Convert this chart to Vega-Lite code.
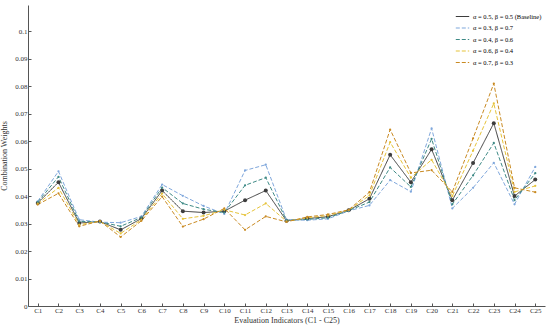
{
  "$schema": "https://vega.github.io/schema/vega-lite/v6.json",
  "width": 517,
  "height": 301,
  "autosize": {"type": "none"},
  "padding": {"left": 28, "top": 5, "right": 5, "bottom": 24},
  "background": "white",
  "config": {
    "view": {"stroke": null},
    "font": "Liberation Serif",
    "axis": {"labelFont": "Liberation Serif", "titleFont": "Liberation Serif", "titleFontWeight": "normal", "labelColor": "#333", "titleColor": "#333", "domainColor": "#555", "tickColor": "#555", "grid": false},
    "legend": {"labelFont": "Liberation Serif"}
  },
  "data": {"values": [
    {"ind":"C1","s":"α = 0.5, β = 0.5 (Baseline)","w":0.0375},{"ind":"C1","s":"α = 0.3, β = 0.7","w":0.0381},{"ind":"C1","s":"α = 0.4, β = 0.6","w":0.0378},{"ind":"C1","s":"α = 0.6, β = 0.4","w":0.0372},{"ind":"C1","s":"α = 0.7, β = 0.3","w":0.0369},
    {"ind":"C2","s":"α = 0.5, β = 0.5 (Baseline)","w":0.0450},{"ind":"C2","s":"α = 0.3, β = 0.7","w":0.0490},{"ind":"C2","s":"α = 0.4, β = 0.6","w":0.0470},{"ind":"C2","s":"α = 0.6, β = 0.4","w":0.0430},{"ind":"C2","s":"α = 0.7, β = 0.3","w":0.0410},
    {"ind":"C3","s":"α = 0.5, β = 0.5 (Baseline)","w":0.0302},{"ind":"C3","s":"α = 0.3, β = 0.7","w":0.0314},{"ind":"C3","s":"α = 0.4, β = 0.6","w":0.0308},{"ind":"C3","s":"α = 0.6, β = 0.4","w":0.0296},{"ind":"C3","s":"α = 0.7, β = 0.3","w":0.0290},
    {"ind":"C4","s":"α = 0.5, β = 0.5 (Baseline)","w":0.0307},{"ind":"C4","s":"α = 0.3, β = 0.7","w":0.0305},{"ind":"C4","s":"α = 0.4, β = 0.6","w":0.0306},{"ind":"C4","s":"α = 0.6, β = 0.4","w":0.0308},{"ind":"C4","s":"α = 0.7, β = 0.3","w":0.0309},
    {"ind":"C5","s":"α = 0.5, β = 0.5 (Baseline)","w":0.0277},{"ind":"C5","s":"α = 0.3, β = 0.7","w":0.0303},{"ind":"C5","s":"α = 0.4, β = 0.6","w":0.0290},{"ind":"C5","s":"α = 0.6, β = 0.4","w":0.0264},{"ind":"C5","s":"α = 0.7, β = 0.3","w":0.0251},
    {"ind":"C6","s":"α = 0.5, β = 0.5 (Baseline)","w":0.0318},{"ind":"C6","s":"α = 0.3, β = 0.7","w":0.0326},{"ind":"C6","s":"α = 0.4, β = 0.6","w":0.0322},{"ind":"C6","s":"α = 0.6, β = 0.4","w":0.0314},{"ind":"C6","s":"α = 0.7, β = 0.3","w":0.0310},
    {"ind":"C7","s":"α = 0.5, β = 0.5 (Baseline)","w":0.0420},{"ind":"C7","s":"α = 0.3, β = 0.7","w":0.0442},{"ind":"C7","s":"α = 0.4, β = 0.6","w":0.0431},{"ind":"C7","s":"α = 0.6, β = 0.4","w":0.0409},{"ind":"C7","s":"α = 0.7, β = 0.3","w":0.0398},
    {"ind":"C8","s":"α = 0.5, β = 0.5 (Baseline)","w":0.0345},{"ind":"C8","s":"α = 0.3, β = 0.7","w":0.0401},{"ind":"C8","s":"α = 0.4, β = 0.6","w":0.0373},{"ind":"C8","s":"α = 0.6, β = 0.4","w":0.0317},{"ind":"C8","s":"α = 0.7, β = 0.3","w":0.0289},
    {"ind":"C9","s":"α = 0.5, β = 0.5 (Baseline)","w":0.0340},{"ind":"C9","s":"α = 0.3, β = 0.7","w":0.0364},{"ind":"C9","s":"α = 0.4, β = 0.6","w":0.0352},{"ind":"C9","s":"α = 0.6, β = 0.4","w":0.0328},{"ind":"C9","s":"α = 0.7, β = 0.3","w":0.0316},
    {"ind":"C10","s":"α = 0.5, β = 0.5 (Baseline)","w":0.0345},{"ind":"C10","s":"α = 0.3, β = 0.7","w":0.0335},{"ind":"C10","s":"α = 0.4, β = 0.6","w":0.0340},{"ind":"C10","s":"α = 0.6, β = 0.4","w":0.0350},{"ind":"C10","s":"α = 0.7, β = 0.3","w":0.0355},
    {"ind":"C11","s":"α = 0.5, β = 0.5 (Baseline)","w":0.0385},{"ind":"C11","s":"α = 0.3, β = 0.7","w":0.0493},{"ind":"C11","s":"α = 0.4, β = 0.6","w":0.0439},{"ind":"C11","s":"α = 0.6, β = 0.4","w":0.0331},{"ind":"C11","s":"α = 0.7, β = 0.3","w":0.0277},
    {"ind":"C12","s":"α = 0.5, β = 0.5 (Baseline)","w":0.0420},{"ind":"C12","s":"α = 0.3, β = 0.7","w":0.0514},{"ind":"C12","s":"α = 0.4, β = 0.6","w":0.0467},{"ind":"C12","s":"α = 0.6, β = 0.4","w":0.0373},{"ind":"C12","s":"α = 0.7, β = 0.3","w":0.0326},
    {"ind":"C13","s":"α = 0.5, β = 0.5 (Baseline)","w":0.0310},{"ind":"C13","s":"α = 0.3, β = 0.7","w":0.0314},{"ind":"C13","s":"α = 0.4, β = 0.6","w":0.0312},{"ind":"C13","s":"α = 0.6, β = 0.4","w":0.0308},{"ind":"C13","s":"α = 0.7, β = 0.3","w":0.0306},
    {"ind":"C14","s":"α = 0.5, β = 0.5 (Baseline)","w":0.0318},{"ind":"C14","s":"α = 0.3, β = 0.7","w":0.0312},{"ind":"C14","s":"α = 0.4, β = 0.6","w":0.0315},{"ind":"C14","s":"α = 0.6, β = 0.4","w":0.0321},{"ind":"C14","s":"α = 0.7, β = 0.3","w":0.0324},
    {"ind":"C15","s":"α = 0.5, β = 0.5 (Baseline)","w":0.0325},{"ind":"C15","s":"α = 0.3, β = 0.7","w":0.0317},{"ind":"C15","s":"α = 0.4, β = 0.6","w":0.0321},{"ind":"C15","s":"α = 0.6, β = 0.4","w":0.0329},{"ind":"C15","s":"α = 0.7, β = 0.3","w":0.0333},
    {"ind":"C16","s":"α = 0.5, β = 0.5 (Baseline)","w":0.0348},{"ind":"C16","s":"α = 0.3, β = 0.7","w":0.0346},{"ind":"C16","s":"α = 0.4, β = 0.6","w":0.0347},{"ind":"C16","s":"α = 0.6, β = 0.4","w":0.0349},{"ind":"C16","s":"α = 0.7, β = 0.3","w":0.0350},
    {"ind":"C17","s":"α = 0.5, β = 0.5 (Baseline)","w":0.0390},{"ind":"C17","s":"α = 0.3, β = 0.7","w":0.0366},{"ind":"C17","s":"α = 0.4, β = 0.6","w":0.0378},{"ind":"C17","s":"α = 0.6, β = 0.4","w":0.0402},{"ind":"C17","s":"α = 0.7, β = 0.3","w":0.0414},
    {"ind":"C18","s":"α = 0.5, β = 0.5 (Baseline)","w":0.0550},{"ind":"C18","s":"α = 0.3, β = 0.7","w":0.0458},{"ind":"C18","s":"α = 0.4, β = 0.6","w":0.0504},{"ind":"C18","s":"α = 0.6, β = 0.4","w":0.0596},{"ind":"C18","s":"α = 0.7, β = 0.3","w":0.0642},
    {"ind":"C19","s":"α = 0.5, β = 0.5 (Baseline)","w":0.0450},{"ind":"C19","s":"α = 0.3, β = 0.7","w":0.0416},{"ind":"C19","s":"α = 0.4, β = 0.6","w":0.0433},{"ind":"C19","s":"α = 0.6, β = 0.4","w":0.0467},{"ind":"C19","s":"α = 0.7, β = 0.3","w":0.0484},
    {"ind":"C20","s":"α = 0.5, β = 0.5 (Baseline)","w":0.0570},{"ind":"C20","s":"α = 0.3, β = 0.7","w":0.0646},{"ind":"C20","s":"α = 0.4, β = 0.6","w":0.0608},{"ind":"C20","s":"α = 0.6, β = 0.4","w":0.0532},{"ind":"C20","s":"α = 0.7, β = 0.3","w":0.0494},
    {"ind":"C21","s":"α = 0.5, β = 0.5 (Baseline)","w":0.0385},{"ind":"C21","s":"α = 0.3, β = 0.7","w":0.0355},{"ind":"C21","s":"α = 0.4, β = 0.6","w":0.0370},{"ind":"C21","s":"α = 0.6, β = 0.4","w":0.0400},{"ind":"C21","s":"α = 0.7, β = 0.3","w":0.0415},
    {"ind":"C22","s":"α = 0.5, β = 0.5 (Baseline)","w":0.0520},{"ind":"C22","s":"α = 0.3, β = 0.7","w":0.0430},{"ind":"C22","s":"α = 0.4, β = 0.6","w":0.0475},{"ind":"C22","s":"α = 0.6, β = 0.4","w":0.0565},{"ind":"C22","s":"α = 0.7, β = 0.3","w":0.0610},
    {"ind":"C23","s":"α = 0.5, β = 0.5 (Baseline)","w":0.0665},{"ind":"C23","s":"α = 0.3, β = 0.7","w":0.0521},{"ind":"C23","s":"α = 0.4, β = 0.6","w":0.0593},{"ind":"C23","s":"α = 0.6, β = 0.4","w":0.0737},{"ind":"C23","s":"α = 0.7, β = 0.3","w":0.0809},
    {"ind":"C24","s":"α = 0.5, β = 0.5 (Baseline)","w":0.0400},{"ind":"C24","s":"α = 0.3, β = 0.7","w":0.0370},{"ind":"C24","s":"α = 0.4, β = 0.6","w":0.0385},{"ind":"C24","s":"α = 0.6, β = 0.4","w":0.0415},{"ind":"C24","s":"α = 0.7, β = 0.3","w":0.0430},
    {"ind":"C25","s":"α = 0.5, β = 0.5 (Baseline)","w":0.0460},{"ind":"C25","s":"α = 0.3, β = 0.7","w":0.0506},{"ind":"C25","s":"α = 0.4, β = 0.6","w":0.0483},{"ind":"C25","s":"α = 0.6, β = 0.4","w":0.0437},{"ind":"C25","s":"α = 0.7, β = 0.3","w":0.0414}
  ]},
  "encoding": {
    "x": {"field": "ind", "type": "ordinal", "sort": null,
      "scale": {"type": "point", "padding": 0.47},
      "axis": {"title": "Evaluation Indicators (C1 - C25)", "labelAngle": 0, "labelFontSize": 7, "titleFontSize": 8, "tickSize": -3, "labelPadding": 3, "titlePadding": 3, "domainWidth": 1}},
    "y": {"field": "w", "type": "quantitative",
      "scale": {"domain": [0, 0.1095], "nice": false, "zero": true},
      "axis": {"title": "Combination Weights", "values": [0, 0.01, 0.02, 0.03, 0.04, 0.05, 0.06, 0.07, 0.08, 0.09, 0.1], "format": "~g", "labelFontSize": 7, "titleFontSize": 8, "tickSize": -3, "labelPadding": 4, "titlePadding": 6}},
    "color": {"field": "s", "type": "nominal", "sort": null,
      "scale": {"domain": ["α = 0.5, β = 0.5 (Baseline)", "α = 0.3, β = 0.7", "α = 0.4, β = 0.6", "α = 0.6, β = 0.4", "α = 0.7, β = 0.3"],
        "range": ["#3d3d3d", "#7fa7dc", "#3e8a86", "#e6c33a", "#c98a22"]},
      "legend": {"title": null, "orient": "none", "legendX": 427, "legendY": 4, "labelFontSize": 6.5, "symbolType": "stroke", "symbolSize": 180, "symbolStrokeWidth": 1.2, "rowPadding": 0.5, "labelOffset": 3}},
    "strokeDash": {"field": "s", "type": "nominal", "sort": null,
      "scale": {"domain": ["α = 0.5, β = 0.5 (Baseline)", "α = 0.3, β = 0.7", "α = 0.4, β = 0.6", "α = 0.6, β = 0.4", "α = 0.7, β = 0.3"],
        "range": [[1, 0], [4, 2], [4, 2], [4, 2], [4, 2]]},
      "legend": null}
  },
  "layer": [
    {"mark": {"type": "line", "strokeWidth": 1}},
    {"mark": {"type": "point", "filled": true, "opacity": 1},
      "encoding": {"size": {"condition": {"test": "datum.s === 'α = 0.5, β = 0.5 (Baseline)'", "value": 16}, "value": 5}, "strokeDash": {"value": [1, 0]}}}
  ]
}
